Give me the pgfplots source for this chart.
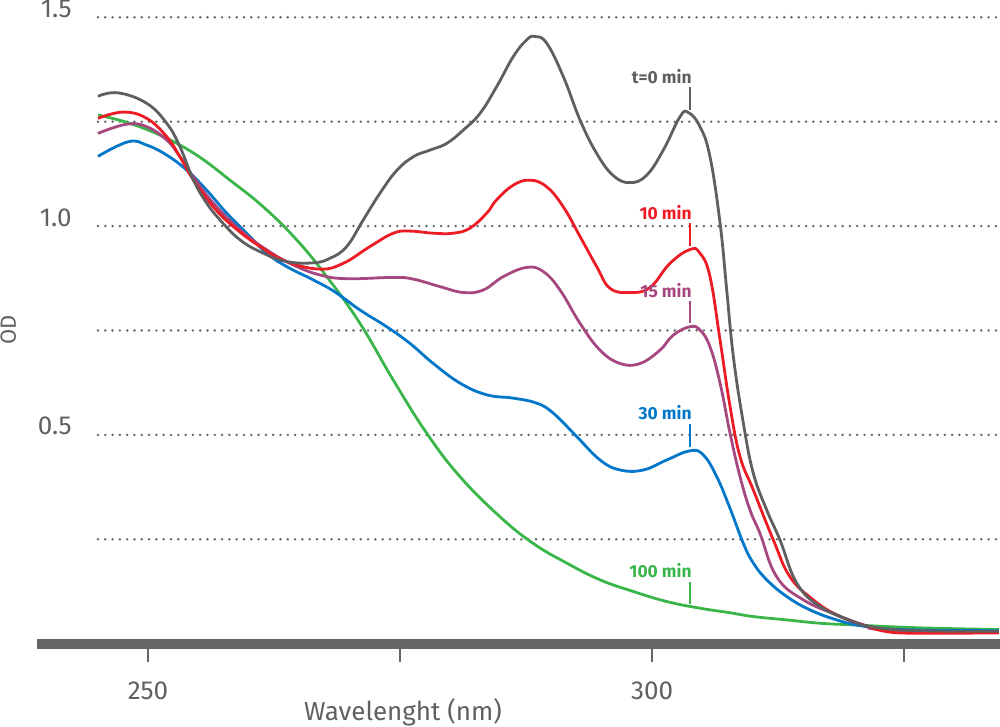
\documentclass[border=0pt]{standalone}
\usepackage{pgfplots}
\pgfplotsset{compat=1.18}
\usepackage{fontspec}
\setmainfont{Fira Sans}
\definecolor{txtgray}{HTML}{5F6062}
\definecolor{cgray}{HTML}{5E5F61}
\definecolor{cred}{HTML}{ED1C24}
\definecolor{cpurple}{HTML}{A6477F}
\definecolor{cblue}{HTML}{0077C8}
\definecolor{cgreen}{HTML}{3AB54A}
\definecolor{bargray}{HTML}{646567}
\definecolor{dotgray}{HTML}{646567}

\begin{document}
\begin{tikzpicture}
\useasboundingbox (-18.5pt,-41.65pt) rectangle (481.5pt,321.85pt);
\begin{axis}[at={(0,0)}, anchor=south west, scale only axis,
 width=481.5pt, height=321.85pt,
 xmin=238.99, xmax=334.52, ymin=0, ymax=1.5414,
 axis x line*=bottom, axis y line*=left, axis line style={draw=none},
 xtick={250,275,300,325}, xticklabels={250,,300,},
 xtick align=outside, major tick length=9pt,
 x tick style={draw=bargray, line width=1.1pt},
 y tick style={draw=none},
 ytick={0.5,1,1.5}, yticklabels={0.5,1.0,1.5},
 ticklabel style={font=\fontsize{13}{15}\selectfont, text=txtgray},
 yticklabel style={anchor=base east, inner sep=0pt, xshift=17.5pt},
 xticklabel style={anchor=base, inner sep=0pt, yshift=-19pt},
 clip=false,
]
\pgfplotsinvokeforeach{0.25,0.5,0.75,1,1.25,1.5}{
  \draw[dotgray, line width=1.35pt, line cap=round, dash pattern=on 0pt off 3.65pt] (axis cs:245.04,#1) -- (axis cs:334.52,#1);
}
\draw[bargray, line width=4.9pt] (axis cs:238.99,0) -- (axis cs:334.52,0);

% 100 min
\addplot[cgreen, line width=1.4pt, smooth, tension=0.7, mark=none] coordinates {
(245.04,1.266) (248.21,1.246) (251.52,1.214) (254.83,1.170) (258.13,1.110)
(261.44,1.046) (264.75,0.967) (267.73,0.879) (271.03,0.767) (274.34,0.631)
(277.65,0.504) (280.95,0.400) (284.92,0.304) (288.22,0.240) (291.54,0.193)
(294.84,0.153) (298.15,0.125) (301.46,0.101) (304.76,0.085) (307.5,0.075)
(310.05,0.065) (313.36,0.057) (316.67,0.049) (319.97,0.045) (326.59,0.038)
(334.4,0.034)};

% 30 min
\addplot[cblue, line width=1.4pt, smooth, tension=0.7, mark=none] coordinates {
(245.04,1.167) (248.05,1.202) (249.87,1.194) (251.86,1.170) (253.84,1.134)
(255.82,1.086) (257.81,1.031) (259.79,0.983) (261.78,0.935) (263.76,0.903)
(266.40,0.871) (268.5,0.843) (271.03,0.799) (273.68,0.759) (275.99,0.719)
(278.30,0.671) (280.95,0.624) (283.60,0.596) (286.24,0.588) (288.56,0.576)
(290.21,0.552) (292.53,0.496) (294.84,0.440) (296.83,0.416) (299.14,0.416)
(301.46,0.440) (303.77,0.462) (305.09,0.452) (306.42,0.400) (307.74,0.324)
(309.06,0.240) (310.05,0.193) (311.38,0.153) (313.36,0.113) (315.67,0.081)
(318.32,0.057) (320.96,0.042) (324.6,0.034) (334.4,0.031)};

% 15 min
\addplot[cpurple, line width=1.4pt, smooth, tension=0.7, mark=none] coordinates {
(245.04,1.222) (247.89,1.244) (249.87,1.238) (251.86,1.206) (253.17,1.166)
(254.49,1.118) (256.48,1.055) (259.13,0.991) (261.78,0.943) (264.41,0.907)
(267.06,0.883) (269.71,0.874) (274.34,0.877) (276.32,0.873) (278.97,0.855)
(281.28,0.841) (283.26,0.847) (285.25,0.879) (287.57,0.901) (289.22,0.891)
(290.87,0.847) (292.86,0.767) (294.84,0.703) (296.83,0.671) (298.81,0.671)
(300.79,0.703) (302.11,0.739) (303.77,0.759) (304.76,0.751) (305.75,0.711)
(306.75,0.624) (307.74,0.504) (308.73,0.400) (309.72,0.320) (310.71,0.264)
(312.37,0.160) (315.01,0.105) (318.32,0.069) (320.96,0.045) (323.28,0.033)
(334.4,0.027)};

% 10 min
\addplot[cred, line width=1.4pt, smooth, tension=0.7, mark=none] coordinates {
(245.04,1.258) (247.55,1.273) (249.87,1.258) (251.86,1.214) (253.17,1.166)
(254.49,1.111) (256.48,1.046) (258.46,0.999) (261.11,0.951) (263.76,0.915)
(267.06,0.897) (269.38,0.911) (272.02,0.951) (274.34,0.983) (275.99,0.988)
(278.30,0.983) (280.29,0.983) (281.94,0.995) (283.60,1.031) (284.59,1.063)
(286.24,1.098) (287.90,1.110) (289.55,1.094) (291.20,1.046) (292.86,0.975)
(294.51,0.903) (295.83,0.851) (297.82,0.841) (299.80,0.853) (301.79,0.911)
(303.77,0.944) (304.76,0.935) (305.75,0.879) (306.75,0.727) (307.74,0.568)
(308.73,0.448) (310.05,0.368) (312.04,0.248) (313.69,0.160) (316.0,0.105)
(318.32,0.069) (320.96,0.045) (323.28,0.029) (326.59,0.025) (334.4,0.026)};

% t=0 min
\addplot[cgray, line width=1.4pt, smooth, tension=0.7, mark=none] coordinates {
(245.04,1.311) (247.05,1.319) (249.87,1.294) (251.86,1.246) (253.17,1.190)
(254.49,1.111) (255.82,1.055) (257.14,1.015) (259.13,0.967) (261.44,0.935)
(263.76,0.915) (266.40,0.912) (268.06,0.923) (269.71,0.951) (271.36,1.015)
(273.02,1.079) (274.67,1.133) (276.32,1.166) (277.98,1.182) (279.63,1.198)
(281.28,1.230) (282.94,1.270) (284.59,1.334) (286.24,1.406) (287.57,1.446)
(288.39,1.454) (289.55,1.438) (291.20,1.358) (292.86,1.254) (294.51,1.174)
(296.16,1.121) (297.82,1.104) (299.47,1.122) (301.12,1.182) (302.78,1.262)
(303.60,1.272) (304.76,1.238) (305.75,1.166) (306.75,1.007) (307.41,0.847)
(308.07,0.687) (309.06,0.528) (310.05,0.408) (311.38,0.320) (312.70,0.248)
(314.36,0.145) (316.67,0.089) (319.97,0.053) (321.63,0.041) (324.6,0.033)
(329.6,0.030) (334.4,0.030)};

% curve labels
\tikzset{clab/.style={anchor=base east, inner sep=0pt, font=\fontsize{8.7}{10}\selectfont\bfseries}}
\node[clab, text=cgray] at (axis cs:303.97,1.342) {t=0 min};
\draw[cgray, line width=0.85pt] (axis cs:303.77,1.332) -- (axis cs:303.77,1.278);
\node[clab, text=cred] at (axis cs:303.97,1.015) {10 min};
\draw[cred, line width=0.85pt] (axis cs:303.77,1.007) -- (axis cs:303.77,0.952);
\node[clab, text=cpurple] at (axis cs:303.97,0.8295) {15 min};
\draw[cpurple, line width=0.85pt] (axis cs:303.77,0.821) -- (axis cs:303.77,0.767);
\node[clab, text=cblue] at (axis cs:303.97,0.5357) {30 min};
\draw[cblue, line width=0.85pt] (axis cs:303.77,0.525) -- (axis cs:303.77,0.472);
\node[clab, text=cgreen] at (axis cs:303.97,0.159) {100 min};
\draw[cgreen, line width=0.85pt] (axis cs:303.77,0.148) -- (axis cs:303.77,0.095);

% axis titles
\node[anchor=base, inner sep=0pt, text=txtgray, font=\fontsize{13}{15}\selectfont] at (axis cs:275.3,-0.1844) {Wavelenght (nm)};
\node[rotate=90, anchor=base, inner sep=0pt, text=txtgray, font=\fontsize{11}{13}\selectfont] at (axis cs:236.9,0.751) {OD};
\end{axis}
\end{tikzpicture}
\end{document}
